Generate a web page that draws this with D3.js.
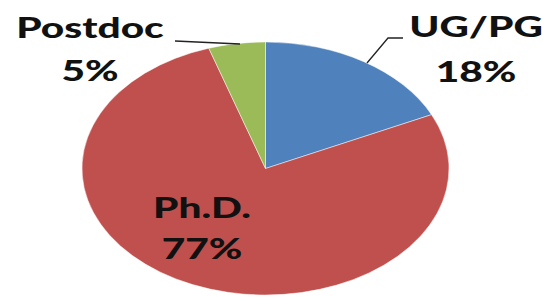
<!doctype html>
<html>
  <head>
    <script src="https://cdnjs.cloudflare.com/ajax/libs/d3/7.8.5/d3.min.js"></script>
    <style>
      body { margin: 0; background: #fff; }
      .label {
        font-family: Lato, "Open Sans", sans-serif;
        font-weight: 900;
        font-size: 28px;
        fill: #111;
        text-anchor: middle;
      }
      .leader { fill: none; stroke: #222; stroke-width: 1.3px; }
    </style>
  </head>
  <body>
    <svg width="550" height="297"></svg>
    <script>
      // slice data, clockwise from 12 o'clock
      var categories = ["UG/PG", "Ph.D.", "Postdoc"];
      var values = [18, 77, 5];
      var colors = ["#4f81bd", "#c0504d", "#9bbb59"];

      // where excel put each label (two lines: name, percent)
      var labelPos = [
        {x: 476, y1: 37, y2: 82},
        {x: 202, y1: 218, y2: 259},
        {x: 90, y1: 38, y2: 81}
      ];
      // leader lines from label to slice edge
      var leaders = [
        [[403, 38], [388, 38], [367, 63]],
        null,
        [[175, 41], [240, 44]]
      ];

      var svg = d3.select("svg");
      var cx = 265.5, cy = 168.5, rx = 183.5, ry = 126.5, r = 100;

      var slices = d3.pie().sort(null).value(d => d)(values);
      var arc = d3.arc().innerRadius(0).outerRadius(r);

      // pie is drawn as a circle then squashed into an ellipse
      var pieG = svg.append("g")
          .attr("transform", "translate(" + cx + "," + cy + ") scale(" + (rx / r) + "," + (ry / r) + ")");

      pieG.selectAll("path")
        .data(slices)
        .enter()
        .append("path")
          .attr("d", arc)
          .attr("fill", (d, i) => colors[i])
          .attr("stroke", "#fff")
          .attr("stroke-width", 0.3);

      var line = d3.line();
      svg.selectAll("path.leader")
        .data(leaders.filter(d => d))
        .enter()
        .append("path")
          .attr("class", "leader")
          .attr("d", line);

      var total = d3.sum(values);
      categories.forEach((c, i) => {
        var p = labelPos[i];
        var g = svg.append("g").attr("transform", "translate(" + p.x + ",0) scale(1.45,1)");
        g.append("text").attr("class", "label").attr("y", p.y1).text(c);
        g.append("text").attr("class", "label").attr("y", p.y2)
          .text(Math.round(values[i] / total * 100) + "%");
      });
    </script>
  </body>
</html>
